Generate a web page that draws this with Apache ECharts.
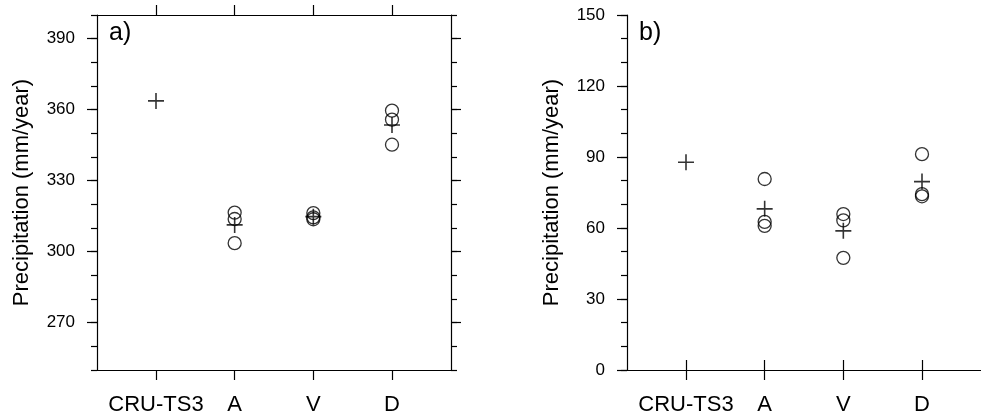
<!DOCTYPE html>
<html>
<head>
<meta charset="utf-8">
<script src="https://cdn.jsdelivr.net/npm/echarts@6/dist/echarts.min.js"></script>
<style>
  html, body { margin: 0; padding: 0; background: #fff; }
  #chart { width: 981px; height: 419px; }
</style>
</head>
<body>
<div id="chart"></div>
<script>
// Categories along the x axis: observations first, then the three experiments
const categories = ['CRU-TS3', 'A', 'V', 'D'];

// Panel a) annual precipitation (mm/year)
const annualMean = [363.7, 311.3, 314.8, 353.5];   // observed value / ensemble mean (plus)
const annualRun1 = [null, 316.5, 316.3, 359.6];    // ensemble members (circles)
const annualRun2 = [null, 313.8, 314.5, 355.8];
const annualRun3 = [null, 303.6, 313.7, 345.2];
const annualTicks = [270, 300, 330, 360, 390];

// Panel b) precipitation (mm/year)
const seasonMean = [87.8, 68.1, 58.8, 79.6];
const seasonRun1 = [null, 80.7, 65.9, 91.2];
const seasonRun2 = [null, 62.6, 63.2, 74.3];
const seasonRun3 = [null, 60.9, 47.4, 73.4];
const seasonTicks = [0, 30, 60, 90, 120, 150];

const FONT = '"Liberation Sans", Arial, Helvetica, sans-serif';
const INK = '#000';
const catPositions = categories.map((c, i) => i + 1);

function toPoints(values) {
  return values
    .map((v, i) => (v == null ? null : [i + 1, v]))
    .filter(p => p !== null);
}

// Axes for one panel: value x axis (bottom + top) and y axis (left + right),
// with a second overlaid y axis on each side carrying the longer major ticks.
function panelAxes(gridIndex, yMin, yMax, majorTicks, title, showRight) {
  const line = { show: true, lineStyle: { color: INK, width: 1.2 } };
  const xBase = {
    type: 'value', gridIndex, min: 0.25, max: 4.75,
    axisLine: line,
    splitLine: { show: false },
    axisTick: { show: true, inside: false, length: 10, customValues: catPositions,
                lineStyle: { color: INK, width: 1.2 } }
  };
  const xAxes = [
    Object.assign({}, xBase, {
      position: 'bottom',
      axisLabel: { show: true, customValues: catPositions, margin: 24,
                   formatter: v => categories[Math.round(v) - 1] || '',
                   color: INK, fontSize: 22, fontFamily: FONT }
    }),
    Object.assign({}, xBase, { position: 'top', axisLabel: { show: false } })
  ];
  const yMinor = (position, withLabels, visible) => ({
    type: 'value', gridIndex, position, min: yMin, max: yMax, interval: 10,
    show: visible,
    axisLine: line,
    splitLine: { show: false },
    axisTick: { show: true, inside: false, length: 6, lineStyle: { color: INK, width: 1.2 } },
    axisLabel: withLabels
      ? { show: true, customValues: majorTicks, margin: 22, color: INK,
          fontSize: 17, fontFamily: FONT }
      : { show: false },
    name: withLabels ? title : '',
    nameLocation: 'middle', nameRotate: 90, nameGap: 64,
    nameTextStyle: { color: INK, fontSize: 22, fontFamily: FONT }
  });
  const yMajor = (position, visible) => ({
    type: 'value', gridIndex, position, min: yMin, max: yMax,
    show: visible,
    axisLine: { show: false },
    splitLine: { show: false },
    axisTick: { show: true, inside: false, length: 10, customValues: majorTicks,
                lineStyle: { color: INK, width: 1.2 } },
    axisLabel: { show: false }
  });
  return {
    x: xAxes,
    y: [yMinor('left', true, true), yMajor('left', true),
        yMinor('right', false, showRight), yMajor('right', showRight)]
  };
}

const axesA = panelAxes(0, 250, 400, annualTicks, 'Precipitation (mm/year)', true);
const axesB = panelAxes(1, 0, 150, seasonTicks, 'Precipitation (mm/year)', false);

const circleStyle = { color: 'transparent', borderColor: INK, borderWidth: 1.3 };
const plusStyle = { color: 'transparent', borderColor: INK, borderWidth: 1.6 };
const PLUS = 'path://M0 8H16M8 0V16';

function panelSeries(xIndex, yIndex, mean, runs) {
  const out = runs.map(run => ({
    type: 'scatter', xAxisIndex: xIndex, yAxisIndex: yIndex,
    symbol: 'circle', symbolSize: 13, itemStyle: circleStyle,
    data: toPoints(run), silent: true
  }));
  out.push({
    type: 'scatter', xAxisIndex: xIndex, yAxisIndex: yIndex,
    symbol: PLUS, symbolSize: 16, itemStyle: plusStyle,
    data: toPoints(mean), silent: true
  });
  return out;
}

const option = {
  backgroundColor: '#fff',
  animation: false,
  title: [
    { text: 'a)', left: 104, top: 16,
      textStyle: { fontSize: 25, fontWeight: 'normal', color: INK, fontFamily: FONT } },
    { text: 'b)', left: 634, top: 16,
      textStyle: { fontSize: 25, fontWeight: 'normal', color: INK, fontFamily: FONT } }
  ],
  grid: [
    { left: 97, top: 15, width: 354, height: 355 },
    { left: 627, top: 15, width: 354, height: 355 }
  ],
  xAxis: axesA.x.concat(axesB.x),
  yAxis: axesA.y.concat(axesB.y),
  series: []
    .concat(panelSeries(0, 0, annualMean, [annualRun1, annualRun2, annualRun3]))
    .concat(panelSeries(2, 4, seasonMean, [seasonRun1, seasonRun2, seasonRun3]))
};

const chart = echarts.init(document.getElementById('chart'), null, { renderer: 'canvas' });
chart.setOption(option);
</script>
</body>
</html>
